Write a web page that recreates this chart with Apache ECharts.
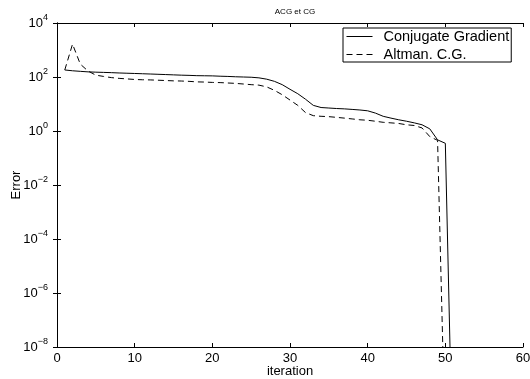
<!DOCTYPE html>
<html>
<head>
<meta charset="utf-8">
<script src="https://cdn.jsdelivr.net/npm/echarts@6/dist/echarts.min.js"></script>
<style>
  html, body { margin: 0; padding: 0; background: #fff; }
  #chart { width: 530px; height: 379px; }
</style>
</head>
<body>
<div id="chart"></div>
<script>
// iteration numbers
const iterations = [1, 2, 3, 4, 5, 6, 7, 8, 9, 10, 11, 12, 13, 14, 15, 16, 17, 18, 19, 20,
  21, 22, 23, 24, 25, 26, 27, 28, 29, 30, 31, 32, 33, 34, 35, 36, 37, 38, 39, 40,
  41, 42, 43, 44, 45, 46, 47, 48, 49, 50, 51];

// Conjugate Gradient error
const cgError = [182, 170, 162, 155, 151, 148, 145, 141, 138, 135, 132, 129, 126, 123, 120, 117, 115, 112, 111, 110,
  107, 105, 102, 100, 98, 93, 83, 69, 52, 35, 24, 15, 8.9, 7.4, 7.1, 6.8, 6.6, 6.3, 6.0, 5.6,
  4.6, 3.5, 3.0, 2.6, 2.3, 2.0, 1.7, 1.2, 0.47, 0.35, 1e-13];

// Altman C.G. error
const acgError = [182, 1650, 300, 166, 117, 105, 95, 89, 85, 81, 79, 78, 76, 74, 72, 71, 69, 66, 65, 63,
  62, 60, 58, 55, 52, 50, 43, 32, 22, 14, 8.9, 4.8, 3.7, 3.5, 3.4, 3.2, 3.0, 2.8, 2.6, 2.5,
  2.3, 2.1, 2.0, 1.9, 1.7, 1.6, 1.3, 0.62, 0.45, 2e-12];

const xTicks = [0, 10, 20, 30, 40, 50, 60];
const yExponents = [-8, -6, -4, -2, 0, 2, 4];

const seriesNames = ['Conjugate Gradient', 'Altman. C.G.'];

const font = 'Liberation Sans, Arial, Helvetica, sans-serif';

const pairs = (xs, ys) => ys.map((v, i) => [xs[i], v]);

const powLabel = (v) => {
  const e = Math.round(Math.log10(v));
  const s = e < 0 ? '\u2212' + (-e) : String(e);
  return '10{sup|' + s + '}';
};

const chart = echarts.init(document.getElementById('chart'));

const axisLine = { show: true, lineStyle: { color: '#000', width: 1 } };
const tick = { show: true, inside: true, length: 4, lineStyle: { color: '#000', width: 1 } };

const options = {
  animation: false,
  backgroundColor: '#fff',
  title: {
    text: 'ACG et CG',
    left: 290,
    textAlign: 'center',
    top: 3,
    textStyle: { fontFamily: font, fontSize: 8, fontWeight: 'normal', color: '#000' }
  },
  grid: { left: 57, right: 7, top: 23, bottom: 32, containLabel: false, outerBoundsMode: 'none' },
  legend: {
    data: seriesNames,
    orient: 'vertical',
    left: 343,
    top: 28,
    padding: [1, 2, 0, 3],
    itemWidth: 26,
    itemHeight: 14,
    itemGap: 3,
    align: 'left',
    borderColor: '#000',
    borderWidth: 1,
    backgroundColor: '#fff',
    itemStyle: { opacity: 0 },
    lineStyle: { width: 1 },
    textStyle: { fontFamily: font, fontSize: 14.5, color: '#000', lineHeight: 14, padding: [0, 0, 0, 6] }
  },
  xAxis: [
    {
      type: 'value',
      min: xTicks[0],
      max: xTicks[xTicks.length - 1],
      interval: 10,
      position: 'bottom',
      name: 'iteration',
      nameLocation: 'middle',
      nameGap: 18,
      nameMoveOverlap: false,
      nameTextStyle: { fontFamily: font, fontSize: 13, color: '#000' },
      axisLine: axisLine,
      axisTick: tick,
      axisLabel: { fontFamily: font, fontSize: 13, color: '#000', margin: 5 },
      splitLine: { show: false }
    },
    {
      type: 'value',
      min: xTicks[0],
      max: xTicks[xTicks.length - 1],
      interval: 10,
      position: 'top',
      axisLine: axisLine,
      axisTick: tick,
      axisLabel: { show: false },
      splitLine: { show: false }
    }
  ],
  yAxis: [
    {
      type: 'log',
      logBase: 10,
      min: Math.pow(10, yExponents[0]),
      max: Math.pow(10, yExponents[yExponents.length - 1]),
      interval: 2,
      position: 'left',
      name: 'Error',
      nameLocation: 'middle',
      nameGap: 34,
      nameMoveOverlap: false,
      nameTextStyle: { fontFamily: font, fontSize: 13, color: '#000' },
      axisLine: axisLine,
      axisTick: tick,
      axisLabel: {
        fontFamily: font, fontSize: 13, color: '#000', margin: 9,
        formatter: powLabel,
        rich: { sup: { fontFamily: font, fontSize: 9, color: '#000', padding: [0, 0, 11, 0] } }
      },
      splitLine: { show: false }
    },
    {
      type: 'log',
      logBase: 10,
      min: Math.pow(10, yExponents[0]),
      max: Math.pow(10, yExponents[yExponents.length - 1]),
      interval: 2,
      position: 'right',
      axisLine: axisLine,
      axisTick: tick,
      axisLabel: { show: false },
      splitLine: { show: false }
    }
  ],
  series: [
    {
      name: seriesNames[0],
      type: 'line',
      xAxisIndex: 0,
      yAxisIndex: 0,
      symbol: 'none',
      clip: true,
      color: '#000',
      lineStyle: { color: '#000', width: 1, type: 'solid' },
      data: pairs(iterations, cgError)
    },
    {
      name: seriesNames[1],
      type: 'line',
      xAxisIndex: 0,
      yAxisIndex: 0,
      symbol: 'none',
      clip: true,
      color: '#000',
      lineStyle: { color: '#000', width: 1, type: [6, 4] },
      data: pairs(iterations, acgError)
    }
  ]
};

chart.setOption(options);
</script>
</body>
</html>
